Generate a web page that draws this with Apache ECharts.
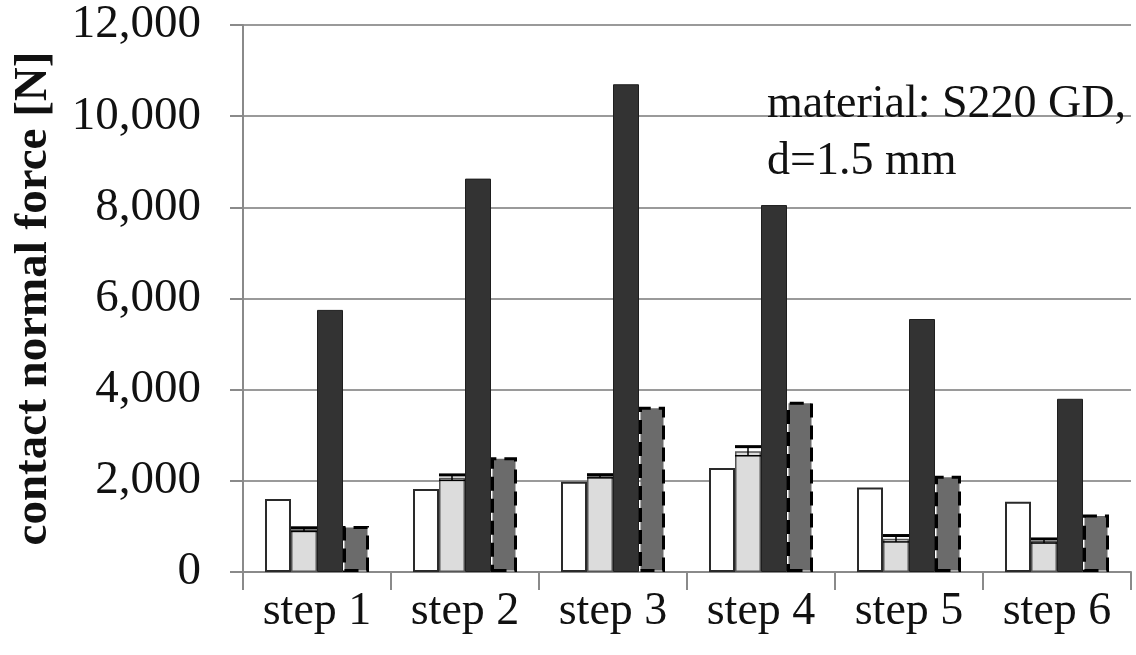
<!DOCTYPE html>
<html>
<head>
<meta charset="utf-8">
<script src="https://cdn.jsdelivr.net/npm/echarts@6/dist/echarts.min.js"></script>
<style>html,body{margin:0;padding:0;background:#fff}#c{width:1136px;height:655px}</style>
</head>
<body>
<div id="c"></div>
<script>
var categories = ['step 1', 'step 2', 'step 3', 'step 4', 'step 5', 'step 6'];
var seriesA = [1600, 1820, 1980, 2280, 1855, 1540];
var seriesB = [930, 2070, 2100, 2650, 730, 680];
var errorB = [40, 60, 35, 100, 70, 45];
var seriesC = [5750, 8630, 10700, 8050, 5550, 3800];
var seriesD = [1010, 2520, 3625, 3735, 2110, 1260];
var yTicks = [0, 2000, 4000, 6000, 8000, 10000, 12000];
var noteLines = ['material: S220 GD,', 'd=1.5 mm'];

var FONT = '"Liberation Serif", "Times New Roman", serif';
var BW = 26;
var chart = echarts.init(document.getElementById('c'), null, {renderer: 'canvas'});

function fmt(v) { return String(v).replace(/\B(?=(\d{3})+(?!\d))/g, ','); }

var errData = seriesB.map(function (v, i) { return [i, v, errorB[i]]; });

var option = {
  animation: false,
  backgroundColor: '#fff',
  grid: {left: 243, right: 5, top: 25, bottom: 83, containLabel: false},
  xAxis: {
    type: 'category',
    data: categories,
    axisLine: {show: true, lineStyle: {color: '#8a8a8a', width: 2}},
    axisTick: {show: true, length: 18, lineStyle: {color: '#8a8a8a', width: 2}},
    axisLabel: {color: '#111', fontFamily: FONT, fontSize: 46, margin: 17},
    splitLine: {show: false}
  },
  yAxis: {
    type: 'value',
    min: yTicks[0],
    max: yTicks[yTicks.length - 1],
    interval: yTicks[1] - yTicks[0],
    name: 'contact normal force [N]',
    nameLocation: 'middle',
    nameRotate: 90,
    nameGap: 186,
    nameTextStyle: {color: '#111', fontFamily: FONT, fontSize: 47, fontWeight: 'bold'},
    axisLine: {show: true, lineStyle: {color: '#8a8a8a', width: 2}},
    axisTick: {show: true, inside: false, length: 13, lineStyle: {color: '#8a8a8a', width: 2}},
    axisLabel: {color: '#111', fontFamily: FONT, fontSize: 47, margin: 42, formatter: fmt},
    splitLine: {show: true, lineStyle: {color: '#9a9a9a', width: 2}}
  },
  series: [
    {type: 'bar', data: seriesA, barWidth: BW, barGap: '0%',
     itemStyle: {color: '#ffffff', borderColor: '#2a2a2a', borderWidth: 2}},
    {type: 'bar', data: seriesB, barWidth: BW, barGap: '0%',
     itemStyle: {color: '#dcdcdc', borderColor: '#555', borderWidth: 1.5}},
    {type: 'bar', data: seriesC, barWidth: BW, barGap: '0%',
     itemStyle: {color: '#333333', borderColor: '#1e1e1e', borderWidth: 1}},
    {type: 'bar', data: seriesD, barWidth: BW, barGap: '0%',
     itemStyle: {color: '#6b6b6b', borderColor: '#000', borderWidth: 3, borderType: [14, 8]}},
    {type: 'custom', data: errData, z: 10,
     renderItem: function (params, api) {
       var i = api.value(0), v = api.value(1), e = api.value(2);
       var pHi = api.coord([i, v + e]);
       var pLo = api.coord([i, v - e]);
       var x = pHi[0] - BW / 2;
       var hw = BW / 2;
       return {type: 'group', children: [
         {type: 'line', shape: {x1: x, y1: pHi[1], x2: x, y2: pLo[1]}, style: {stroke: '#000', lineWidth: 1.5}},
         {type: 'line', shape: {x1: x - hw, y1: pHi[1], x2: x + hw, y2: pHi[1]}, style: {stroke: '#000', lineWidth: 3}},
         {type: 'line', shape: {x1: x - hw, y1: pLo[1], x2: x + hw, y2: pLo[1]}, style: {stroke: '#000', lineWidth: 1.5}}
       ]};
     }}
  ],
  graphic: [{
    type: 'text', left: 767, top: 76, z: 20,
    style: {text: noteLines.join('\n'), font: '46px ' + FONT, fill: '#111', lineHeight: 57}
  }]
};
chart.setOption(option);
</script>
</body>
</html>
